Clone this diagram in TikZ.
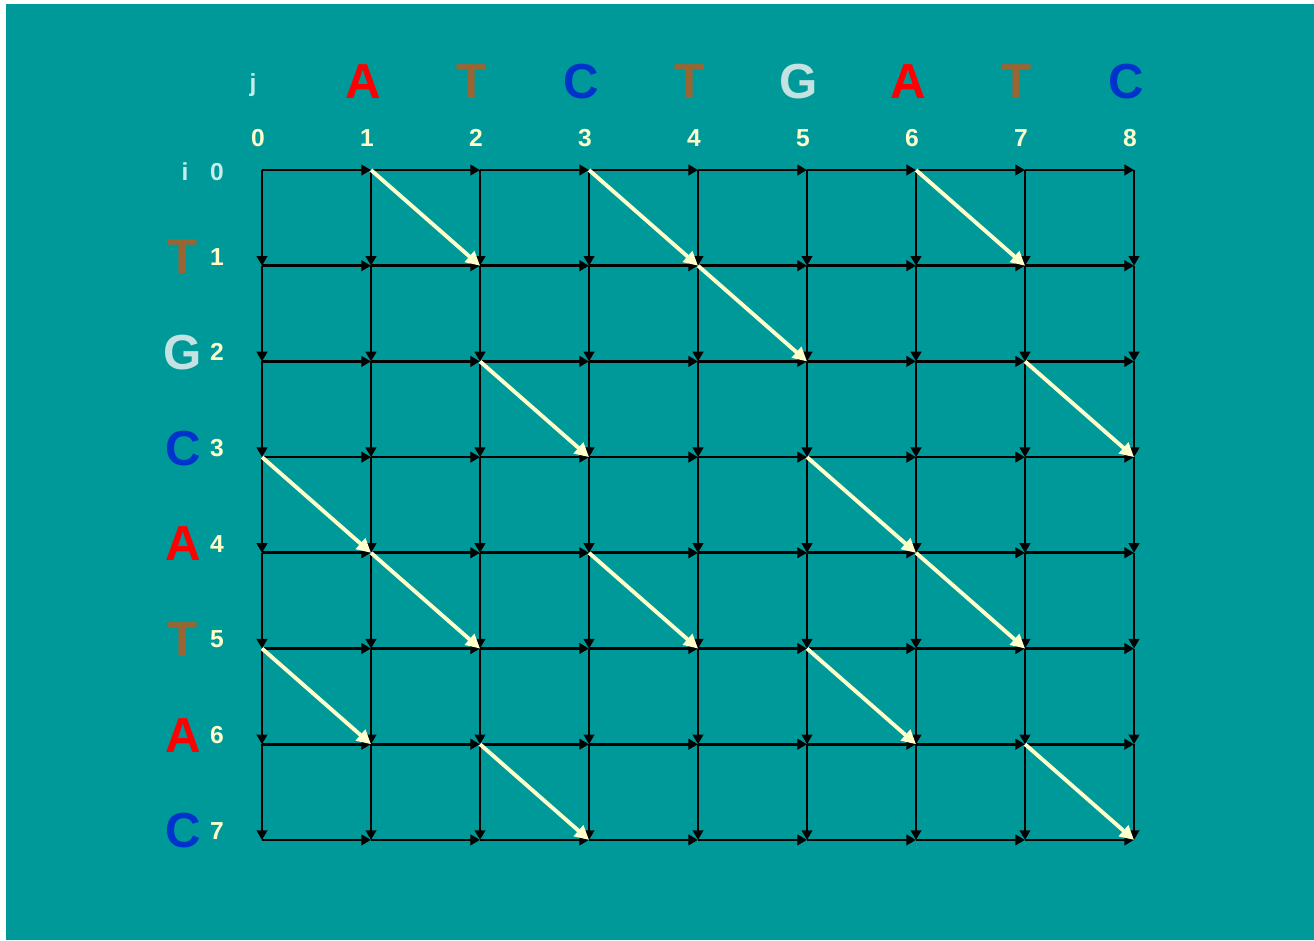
\documentclass[tikz,border=0pt]{standalone}
\usepackage{fontspec}
\setmainfont{Liberation Sans}
\usetikzlibrary{arrows.meta}

\definecolor{bgteal}{HTML}{009999}
\definecolor{numyellow}{HTML}{FFFFCC}
\definecolor{idxblue}{HTML}{C8ECEC}
\definecolor{baseA}{HTML}{FF0000}
\definecolor{baseT}{HTML}{996633}
\definecolor{baseC}{HTML}{0033CC}
\definecolor{baseG}{HTML}{C4E2E2}

\begin{document}
\begin{tikzpicture}[
  x=0.02cm,
  y=-0.02cm,
  base/.style={
    inner sep=0pt,
    font=\bfseries\fontsize{28}{28}\selectfont
  },
  num/.style={
    inner sep=0pt,
    text=numyellow,
    font=\bfseries\fontsize{14}{14}\selectfont
  },
  idx/.style={num, text=idxblue},
  gridarrow/.style={-{Triangle[length=5.5pt,width=6pt]}, line width=1.5pt, black},
  matcharrow/.style={-{Triangle[length=8pt,width=8pt]}, line width=2.2pt, numyellow}
]
% frame
\fill[white] (0,0) rectangle (1314,940);
\fill[bgteal] (6,4) rectangle (1314,940);
\useasboundingbox (0,0) rectangle (1314,940);

% grid points
\foreach \i in {0,...,7}
  \foreach \j in {0,...,8}
    \coordinate (c-\i-\j) at ({262+109*\j},{170+95.7*\i});

% sequence on top
\node[idx] (jlabel) at (253,85) {j};
\foreach \j/\b/\c in {1/A/baseA,2/T/baseT,3/C/baseC,4/T/baseT,5/G/baseG,6/A/baseA,7/T/baseT,8/C/baseC}
  \node[base, text=\c] (colhead-\j) at ({254+109*\j},82) {\b};
\foreach \j in {0,...,8}
  \node[num] (colnum-\j) at ({258+109*\j},138) {\j};

% sequence on the left
\node[idx] (ilabel) at (185,172) {i};
\node[idx] (rownum-0) at (217,172) {0};
\foreach \i/\b/\c in {1/T/baseT,2/G/baseG,3/C/baseC,4/A/baseA,5/T/baseT,6/A/baseA,7/C/baseC}{
  \node[base, text=\c] (rowhead-\i) at (183,{161+95.7*\i}) {\b};
  \node[num] (rownum-\i) at (217,{161+95.7*\i}) {\i};
}

% horizontal and vertical moves
\foreach \i in {0,...,7}
  \foreach \j in {1,...,8}{
    \pgfmathtruncatemacro\jp{\j-1}
    \draw[gridarrow] (c-\i-\jp) -- (c-\i-\j);
  }
\foreach \i in {1,...,7}
  \foreach \j in {0,...,8}{
    \pgfmathtruncatemacro\ip{\i-1}
    \draw[gridarrow] (c-\ip-\j) -- (c-\i-\j);
  }

% matches
\foreach \i/\j in {1/2,1/4,1/7,2/5,3/3,3/8,4/1,4/6,5/2,5/4,5/7,6/1,6/6,7/3,7/8}{
  \pgfmathtruncatemacro\ip{\i-1}
  \pgfmathtruncatemacro\jp{\j-1}
  \draw[matcharrow] (c-\ip-\jp) -- (c-\i-\j);
}
\end{tikzpicture}
\end{document}
